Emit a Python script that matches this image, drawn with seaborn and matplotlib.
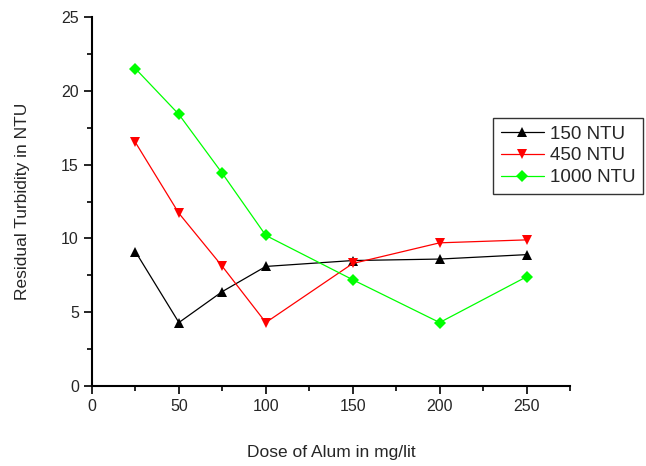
import matplotlib
matplotlib.use("Agg")
import matplotlib.pyplot as plt
import seaborn as sns
import pandas as pd
from matplotlib.ticker import MultipleLocator

dose = [25, 50, 75, 100, 150, 200, 250]
ntu150 = [9.1, 4.3, 6.4, 8.1, 8.5, 8.6, 8.9]
ntu450 = [16.5, 11.7, 8.1, 4.3, 8.3, 9.7, 9.9]
ntu1000 = [21.5, 18.4, 14.4, 10.2, 7.2, 4.3, 7.4]
series_names = ["150 NTU", "450 NTU", "1000 NTU"]

df = pd.DataFrame({
    "dose": dose * 3,
    "turb": ntu150 + ntu450 + ntu1000,
    "series": sum([[n] * len(dose) for n in series_names], []),
})

sns.set_style("white")
plt.rcParams['font.family'] = ['Liberation Sans', 'DejaVu Sans']

fig = plt.figure(figsize=(6.46, 4.66), dpi=100)
ax = fig.add_axes([92/646, 1-386/466, (570-92)/646, (386-17)/466])

palette = {"150 NTU": "#000000", "450 NTU": "#ff0000", "1000 NTU": "#00ff00"}
markers = {"150 NTU": "^", "450 NTU": "v", "1000 NTU": "D"}
sns.lineplot(data=df, x="dose", y="turb", hue="series", style="series",
             palette=palette, markers=markers, dashes=False, linewidth=0.9,
             markersize=7.5, markeredgewidth=0, ax=ax, legend=True)
for line in ax.lines:
    if line.get_marker() == "D":
        line.set_markersize(6)

ax.set_xlim(0, 275)
ax.set_ylim(0, 25)
ax.xaxis.set_major_locator(MultipleLocator(50))
ax.xaxis.set_minor_locator(MultipleLocator(25))
ax.yaxis.set_major_locator(MultipleLocator(5))
ax.yaxis.set_minor_locator(MultipleLocator(2.5))
ax.tick_params(which="major", direction="out", length=6, width=1.2, labelsize=11.5, color="black", bottom=True, left=True)
ax.tick_params(which="minor", direction="out", length=3.5, width=1.2, color="black", bottom=True, left=True)
for s in ["top", "right"]:
    ax.spines[s].set_visible(False)
for s in ["left", "bottom"]:
    ax.spines[s].set_linewidth(1.5)
    ax.spines[s].set_color("black")

ax.set_xlabel("Dose of Alum in mg/lit", fontsize=12.5, labelpad=22)
ax.set_ylabel("Residual Turbidity in NTU", fontsize=12.5, labelpad=22)

leg = ax.legend(title=None, loc="upper left", bbox_to_anchor=(493/646, 1-118/466),
                bbox_transform=fig.transFigure, fontsize=13.5, frameon=True,
                fancybox=False, edgecolor="black", borderpad=0.4,
                handlelength=2.3, handletextpad=0.35, labelspacing=0.25,
                borderaxespad=0)
leg.get_frame().set_linewidth(1.0)
for h in leg.legend_handles:
    if h.get_marker() == "D":
        h.set_markersize(6)

fig.savefig("out.png", dpi=100)
